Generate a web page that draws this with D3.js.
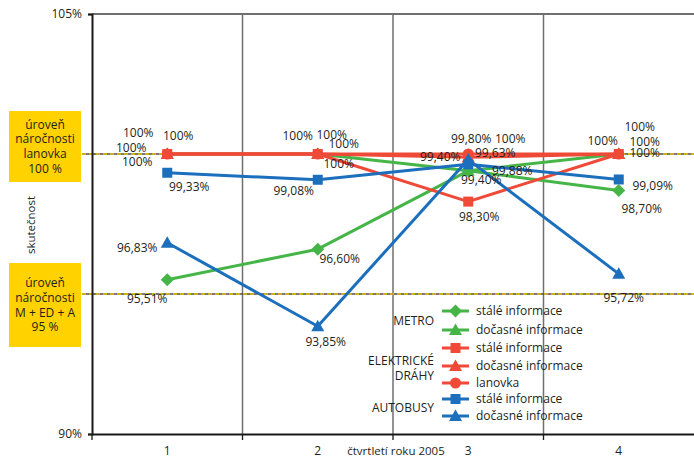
<!DOCTYPE html>
<html>
<head>
<meta charset="utf-8">
<script src="https://cdn.jsdelivr.net/npm/d3@7"></script>
<style>
  body { margin: 0; background: #fff; }
  svg { display: block; }
  text { font-family: "Open Sans", sans-serif; fill: #231f20; }
</style>
</head>
<body>
<svg id="chart" width="694" height="459"></svg>
<script>
// Quarters of 2005 and measured reliability (%) per transport mode
const quarters = ["1", "2", "3", "4"];
const metroStale = [95.51, 96.60, 99.40, 98.70];
const metroDocasne = [100, 100, 99.40, 100];
const edStale = [100, 100, 98.30, 100];
const edDocasne = [100, 100, 99.88, 100];
const lanovka = [100, 100, 100, 100];
const busStale = [99.33, 99.08, 99.63, 99.09];
const busDocasne = [96.83, 93.85, 99.80, 95.72];
const yTicks = [90, 105];
const targetLevels = [100, 95];
const targetTexts = [
  ["úroveň", "náročnosti", "lanovka", "100 %"],
  ["úroveň", "náročnosti", "M + ED + A", "95 %"]
];

const GREEN = "#46b548", RED = "#ef4a37", BLUE = "#1c6fbd";

// Series definitions (legend order); drawing order handled below
const series = [
  { key: "ms", name: "stálé informace", values: metroStale, color: GREEN, shape: "diamond",
    lab: [[-20, 19], [22, 10], [13, 9], [23, 18]] },
  { key: "md", name: "dočasné informace", values: metroDocasne, color: GREEN, shape: "triangle",
    lab: [[-29, -21], [-20, -18], [-28, -14], [-16, -13]] },
  { key: "es", name: "stálé informace", values: edStale, color: RED, shape: "square",
    lab: [[11, -18], [14, -19], [11, 15], [21, -27]] },
  { key: "ed", name: "dočasné informace", values: edDocasne, color: RED, shape: "triangle",
    lab: [[-36, -6], [26, -10], [44, 13], [26, -12]] },
  { key: "la", name: "lanovka", values: lanovka, color: RED, shape: "circle",
    lab: [[-30, 8], [21, 10], [42, -15], [26, -1]] },
  { key: "bs", name: "stálé informace", values: busStale, color: BLUE, shape: "square",
    lab: [[22, 14], [-24, 11], [27, -12], [34, 6]] },
  { key: "bd", name: "dočasné informace", values: busDocasne, color: BLUE, shape: "triangle",
    lab: [[-30, 5], [8, 16], [3, -21], [5, 24]] }
];
const drawOrder = ["ms", "md", "la", "ed", "es", "bs", "bd"];

const svg = d3.select("#chart");
const plotL = 92, plotR = 694, plotT = 14, plotB = 434;

const x = d3.scaleBand().domain(quarters).range([plotL, plotR]).padding(0);
const y = d3.scaleLinear().domain([90, 105]).range([plotB, plotT]);
const cx = q => x(q) + x.bandwidth() / 2;

function marker(shape) {
  switch (shape) {
    case "square": return "M-5,-5H5V5H-5Z";
    case "diamond": return "M0,-6.5L6.5,0L0,6.5L-6.5,0Z";
    case "triangle": return "M0,-6.5L6.5,5L-6.5,5Z";
    case "circle": return "M5.5,0A5.5,5.5 0 1,1 -5.5,0A5.5,5.5 0 1,1 5.5,0Z";
  }
}

const fmt = v => v === 100 ? "100%" : v.toFixed(2).replace(".", ",") + "%";

// Vertical gridlines at category boundaries
const grid = svg.append("g");
quarters.slice(0, -1).forEach(q => {
  grid.append("line")
    .attr("x1", x(q) + x.bandwidth()).attr("x2", x(q) + x.bandwidth())
    .attr("y1", plotT).attr("y2", plotB)
    .attr("stroke", "#6f6f6f").attr("stroke-width", 1.5);
});
// Top border line at 105 %
grid.append("line").attr("x1", plotL).attr("x2", plotR)
  .attr("y1", y(105)).attr("y2", y(105))
  .attr("stroke", "#6f6f6f").attr("stroke-width", 2);

// Target levels: dark line with yellow dashes
targetLevels.forEach(v => {
  grid.append("line").attr("x1", 82).attr("x2", plotR)
    .attr("y1", y(v)).attr("y2", y(v))
    .attr("stroke", "#4d4d4d").attr("stroke-width", 1.4);
  grid.append("line").attr("x1", 82).attr("x2", plotR)
    .attr("y1", y(v)).attr("y2", y(v))
    .attr("stroke", "#e9c500").attr("stroke-width", 1.4)
    .attr("stroke-dasharray", "4 3");
});

// Y axis
const yAxis = svg.append("g").attr("transform", `translate(${plotL},0)`)
  .call(d3.axisLeft(y).tickValues(yTicks).tickSize(4).tickPadding(6)
    .tickFormat(d => d + "%"));
yAxis.select(".domain").attr("stroke", "#1a1a1a").attr("stroke-width", 2);
yAxis.selectAll(".tick line").attr("stroke", "#1a1a1a").attr("stroke-width", 1.5);
yAxis.selectAll(".tick text").attr("font-size", 12).attr("fill", "#231f20")
  .style("font-family", "'Open Sans', sans-serif");

// X axis: labels at category centers, ticks at boundaries
const xAxis = svg.append("g").attr("transform", `translate(0,${plotB})`)
  .call(d3.axisBottom(x).tickSize(0).tickPadding(12));
xAxis.select(".domain").attr("stroke", "#1a1a1a").attr("stroke-width", 2);
xAxis.selectAll(".tick text").attr("font-size", 12).attr("fill", "#231f20")
  .style("font-family", "'Open Sans', sans-serif");
quarters.forEach((q, i) => {
  const bx = i === 0 ? plotL : x(q);
  xAxis.append("line").attr("x1", bx).attr("x2", bx).attr("y1", 0).attr("y2", 6)
    .attr("stroke", "#1a1a1a").attr("stroke-width", 1.3);
});
svg.append("text").attr("x", 396).attr("y", 451).attr("dy", "0.35em")
  .attr("text-anchor", "middle").attr("font-size", 11.5).text("čtvrtletí roku 2005");

// Y axis title
svg.append("text").attr("transform", "translate(31,225) rotate(-90)")
  .attr("dy", "0.35em").attr("text-anchor", "middle").attr("font-size", 11.5)
  .text("skutečnost");

// Yellow target boxes
const boxes = [{ y0: 111, y1: 182 }, { y0: 263, y1: 347 }];
boxes.forEach((b, i) => {
  svg.append("rect").attr("x", 9).attr("y", b.y0).attr("width", 72)
    .attr("height", b.y1 - b.y0).attr("fill", "#ffd200");
  const lines = targetTexts[i];
  const mid = (b.y0 + b.y1) / 2;
  lines.forEach((t, j) => {
    svg.append("text").attr("x", 45).attr("y", mid + (j - (lines.length - 1) / 2) * 14.8)
      .attr("dy", "0.35em").attr("text-anchor", "middle").attr("font-size", 12).text(t);
  });
});

// Series lines and markers
const line = d3.line().x((d, i) => cx(quarters[i])).y(d => y(d));
const byKey = Object.fromEntries(series.map(s => [s.key, s]));
drawOrder.forEach(k => {
  const s = byKey[k];
  const g = svg.append("g");
  g.append("path").datum(s.values).attr("d", line)
    .attr("fill", "none").attr("stroke", s.color).attr("stroke-width", 3)
    .attr("stroke-linejoin", "round");
  g.selectAll("path.m").data(s.values).join("path").attr("class", "m")
    .attr("transform", (d, i) => `translate(${cx(quarters[i])},${y(d)})`)
    .attr("d", marker(s.shape)).attr("fill", s.color);
});

// Data labels
series.forEach(s => {
  s.values.forEach((v, i) => {
    svg.append("text")
      .attr("x", cx(quarters[i]) + s.lab[i][0])
      .attr("y", y(v) + s.lab[i][1])
      .attr("dy", "0.35em").attr("text-anchor", "middle")
      .attr("font-size", 12).text(fmt(v));
  });
});

// Legend
const legend = svg.append("g");
const rowsY = [311, 330, 348, 366, 383, 399, 416];
series.forEach((s, i) => {
  const ry = rowsY[i];
  legend.append("line").attr("x1", 442).attr("x2", 469).attr("y1", ry).attr("y2", ry)
    .attr("stroke", s.color).attr("stroke-width", 3);
  legend.append("path").attr("transform", `translate(455.5,${ry})`)
    .attr("d", marker(s.shape)).attr("fill", s.color);
  legend.append("text").attr("x", 476).attr("y", ry).attr("dy", "0.35em")
    .attr("font-size", 12).text(s.name);
});
const groups = [["METRO", 321], ["ELEKTRICKÉ", 361], ["DRÁHY", 376], ["AUTOBUSY", 408]];
groups.forEach(([t, gy]) => {
  legend.append("text").attr("x", 434).attr("y", gy).attr("dy", "0.35em")
    .attr("text-anchor", "end").attr("font-size", 12).text(t);
});
</script>
</body>
</html>
